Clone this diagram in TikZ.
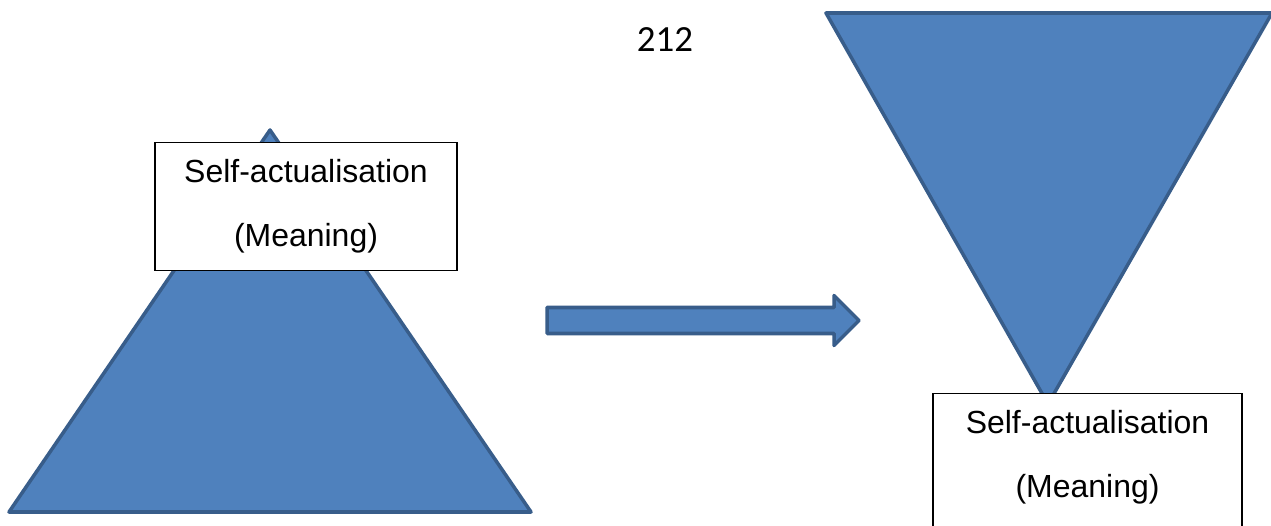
\documentclass[tikz,border=0pt]{standalone}
\usepackage{fontspec}
\setmainfont{Liberation Sans}
\newfontfamily\pagefont{Carlito}
\usetikzlibrary{positioning,calc}
\definecolor{pyrfill}{HTML}{4F81BD}
\definecolor{pyrline}{HTML}{385D8A}
\tikzstyle{pyramid} = [
    fill=pyrfill,
    draw=pyrline,
    line width=2pt,
    line join=round
]

\begin{document}
\begin{tikzpicture}[
    x=0.02cm, y=-0.02cm,
    labelBox/.style={
        rectangle,
        draw=black,
        line width=0.7pt,
        fill=white,
        align=center,
        font=\fontsize{18.2}{36.5}\selectfont,
        minimum width=6.04cm,
        inner xsep=0pt,
        inner ysep=0.3cm,
        text height=1.78cm,
        text depth=0.18cm,
        anchor=north
    },
    pageNum/.style={font=\pagefont\fontsize{21}{25}\selectfont}
]

% Page frame
\clip (0,0) rectangle (1271,526);
\fill[white] (0,0) rectangle (1271,526);

% Page number
\node[pageNum] (page) at (665,40) {212};

% Pyramids
\draw[pyramid] (270,130) -- (531,512) -- (9,512) -- cycle;
\draw[pyramid] (826,13) -- (1272,13) -- (1048,404) -- cycle;

% Labels
\node[labelBox] (leftBox) at (306,142) {Self-actualisation\\(Meaning)};
\node[labelBox, minimum width=6.18cm, text depth=1cm] (rightBox) at (1087.5,393) {Self-actualisation\\(Meaning)};

% Arrow
\coordinate (tail) at (547,320.5);
\coordinate (tip) at (859,320.5);
\draw[pyramid] ($(tail)+(0,-13)$) -- ($(tip)+(-25,-13)$) -- ($(tip)+(-25,-25)$)
    -- (tip) -- ($(tip)+(-25,25)$) -- ($(tip)+(-25,13)$) -- ($(tail)+(0,13)$) -- cycle;

\end{tikzpicture}
\end{document}
